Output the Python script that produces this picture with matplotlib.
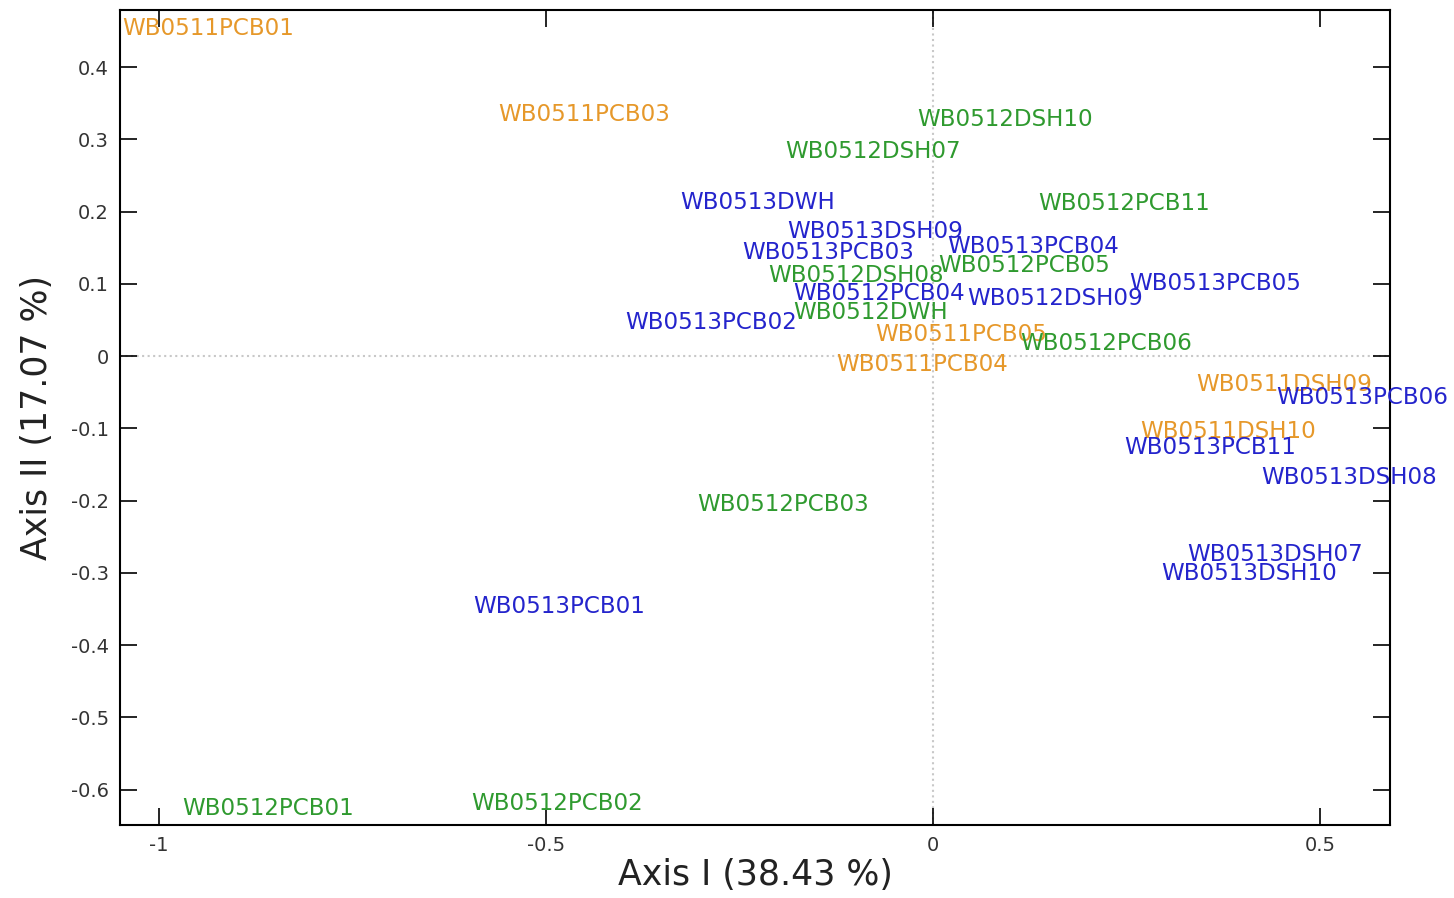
import matplotlib.pyplot as plt

# sample scores on the first two axes (label anchor = left edge, middle)
labels_0511 = ['WB0511PCB01', 'WB0511PCB03', 'WB0511PCB05', 'WB0511PCB04',
               'WB0511DSH09', 'WB0511DSH10']
x_0511 = [-1.047, -0.561, -0.075, -0.125, 0.340, 0.267]
y_0511 = [0.453, 0.335, 0.030, -0.012, -0.039, -0.104]

labels_0512 = ['WB0512DSH10', 'WB0512DSH07', 'WB0512PCB11', 'WB0512DSH08',
               'WB0512PCB05', 'WB0512DWH', 'WB0512PCB06', 'WB0512PCB03',
               'WB0512PCB01', 'WB0512PCB02']
x_0512 = [-0.021, -0.191, 0.136, -0.213, 0.006, -0.181, 0.112, -0.304,
          -0.970, -0.597]
y_0512 = [0.328, 0.283, 0.211, 0.112, 0.125, 0.060, 0.017, -0.206,
          -0.626, -0.619]

labels_0513 = ['WB0513DWH', 'WB0513DSH09', 'WB0513PCB03', 'WB0513PCB04',
               'WB0513PCB05', 'WB0512PCB04', 'WB0512DSH09', 'WB0513PCB02',
               'WB0513PCB06', 'WB0513PCB11', 'WB0513DSH08', 'WB0513DSH07',
               'WB0513DSH10', 'WB0513PCB01']
x_0513 = [-0.326, -0.189, -0.247, 0.018, 0.253, -0.181, 0.044, -0.397,
          0.443, 0.247, 0.424, 0.328, 0.295, -0.594]
y_0513 = [0.213, 0.173, 0.144, 0.151, 0.101, 0.086, 0.079, 0.046,
          -0.058, -0.127, -0.168, -0.274, -0.301, -0.346]

groups = [
    (labels_0511, x_0511, y_0511, '#e6982a'),
    (labels_0512, x_0512, y_0512, '#2f9a2f'),
    (labels_0513, x_0513, y_0513, '#2424cc'),
]

fig = plt.figure(figsize=(14.54, 8.98), dpi=100)
ax = fig.add_axes([0.0825, 0.0813, 0.8735, 0.9076])

ax.axhline(0, color='#c8c8c8', linestyle=':', linewidth=1.5, zorder=0)
ax.axvline(0, color='#c8c8c8', linestyle=':', linewidth=1.5, zorder=0)

for names, xs, ys, col in groups:
    for name, x, y in zip(names, xs, ys):
        ax.text(x, y, name, color=col, fontsize=16.6, ha='left', va='center',
                clip_on=False, family='DejaVu Sans')

ax.set_xlim(-1.05, 0.59)
ax.set_ylim(-0.649, 0.479)
ax.set_xticks([-1, -0.5, 0, 0.5])
ax.set_xticklabels(['-1', '-0.5', '0', '0.5'])
ax.set_yticks([-0.6, -0.5, -0.4, -0.3, -0.2, -0.1, 0, 0.1, 0.2, 0.3, 0.4])
ax.set_yticklabels(['-0.6', '-0.5', '-0.4', '-0.3', '-0.2', '-0.1', '0',
                    '0.1', '0.2', '0.3', '0.4'])
ax.tick_params(direction='in', length=12, width=1.2, top=True, right=True,
               labelsize=14, labelcolor='#333333', pad=8)
for s in ax.spines.values():
    s.set_linewidth(1.5)

ax.set_xlabel('Axis I (38.43 %)', fontsize=25, color='#222222', labelpad=2)
ax.set_ylabel('Axis II (17.07 %)', fontsize=25, color='#222222', labelpad=12)

fig.savefig('out.png', dpi=100)
